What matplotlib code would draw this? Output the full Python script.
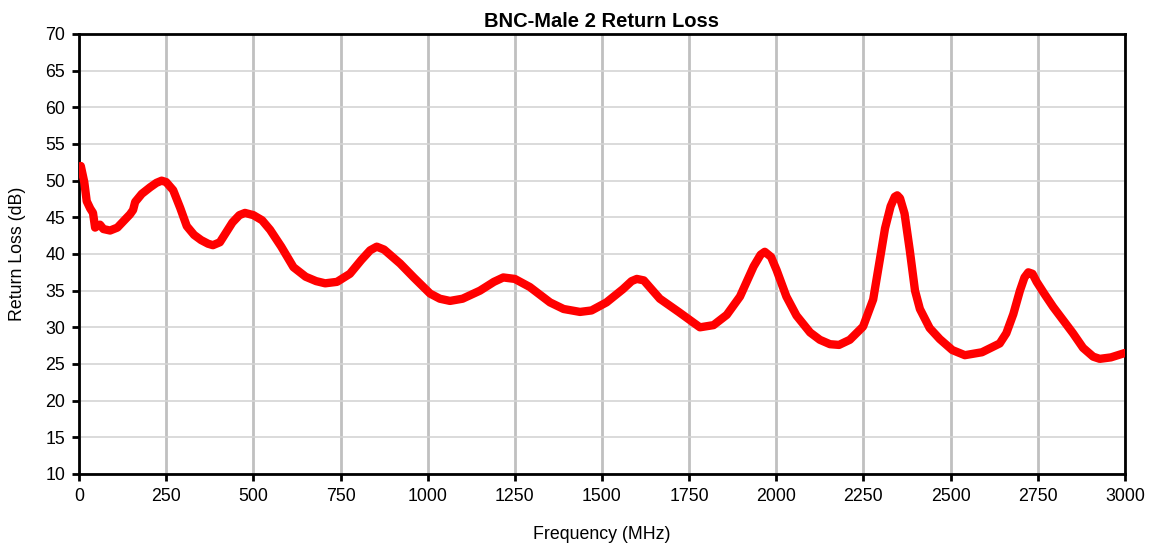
import numpy as np
import matplotlib.pyplot as plt

plt.rcParams['font.family'] = ['Liberation Sans', 'DejaVu Sans']

# frequency (MHz) and return loss (dB)
freq = [5, 15, 22, 32, 40, 46, 52, 60, 70, 89, 110, 130, 146, 155, 161, 180, 204, 222, 237,
        250, 270, 290, 309, 330, 350, 370, 384, 404, 420, 440, 460, 476, 500, 525, 548,
        580, 615, 650, 680, 706, 740, 777, 810, 835, 854, 875, 921, 960, 1007, 1035, 1064,
        1100, 1150, 1190, 1217, 1250, 1293, 1351, 1390, 1437, 1470, 1513, 1560, 1585, 1600,
        1620, 1666, 1720, 1781, 1820, 1858, 1896, 1935, 1955, 1967, 1985, 2001, 2029, 2058,
        2097, 2125, 2154, 2180, 2211, 2249, 2278, 2297, 2312, 2328, 2340, 2347, 2355, 2368,
        2383, 2398, 2412, 2440, 2469, 2505, 2541, 2590, 2641, 2660, 2680, 2699, 2712, 2723,
        2735, 2747, 2770, 2794, 2851, 2880, 2909, 2928, 2960, 3000]
rl = [52.0, 49.8, 47.2, 46.2, 45.6, 43.6, 43.8, 44.0, 43.4, 43.2, 43.6, 44.6, 45.4, 46.0,
      47.1, 48.2, 49.1, 49.7, 50.0, 49.8, 48.7, 46.3, 43.8, 42.6, 41.9, 41.4, 41.2, 41.6,
      42.8, 44.3, 45.3, 45.6, 45.3, 44.6, 43.3, 41.0, 38.2, 36.9, 36.3, 36.0, 36.2, 37.3,
      39.2, 40.5, 41.0, 40.6, 38.7, 36.8, 34.6, 33.9, 33.6, 33.9, 35.0, 36.2, 36.8, 36.6,
      35.5, 33.4, 32.5, 32.1, 32.3, 33.4, 35.2, 36.3, 36.6, 36.4, 33.9, 32.1, 30.0, 30.3,
      31.7, 34.2, 38.3, 39.9, 40.3, 39.6, 37.8, 34.2, 31.6, 29.3, 28.3, 27.7, 27.6, 28.3,
      30.1, 33.8, 39.2, 43.5, 46.5, 47.8, 48.0, 47.6, 45.5, 40.5, 35.0, 32.5, 29.9, 28.4,
      26.9, 26.2, 26.6, 27.8, 29.2, 31.8, 35.0, 36.8, 37.5, 37.3, 36.2, 34.5, 32.8, 29.2,
      27.2, 26.0, 25.7, 25.9, 26.5]

fig = plt.figure(figsize=(11.49, 5.43), dpi=100)
ax = fig.add_axes([0.0688, 0.1271, 0.9102, 0.8103])

ax.plot(freq, rl, color='#ff0000', lw=6, solid_joinstyle='round', solid_capstyle='round', zorder=3)

ax.set_xlim(0, 3000)
ax.set_ylim(10, 70)
ax.set_xticks(np.arange(0, 3001, 250))
ax.set_yticks(np.arange(10, 71, 5))
ax.xaxis.grid(True, color='#c0c0c0', lw=2)
ax.yaxis.grid(True, color='#d4d4d4', lw=1.2)
ax.set_axisbelow(True)
for s in ax.spines.values():
    s.set_linewidth(2)
    s.set_color('black')
ax.tick_params(direction='out', length=5, width=2, labelsize=12.8, pad=5)

ax.set_title('BNC-Male 2 Return Loss', fontsize=14.5, fontweight='bold', pad=5)
ax.set_xlabel('Frequency (MHz)', fontsize=12.8, labelpad=15)
ax.set_ylabel('Return Loss (dB)', fontsize=12.8, labelpad=14)

fig.savefig('out.png', dpi=100)
